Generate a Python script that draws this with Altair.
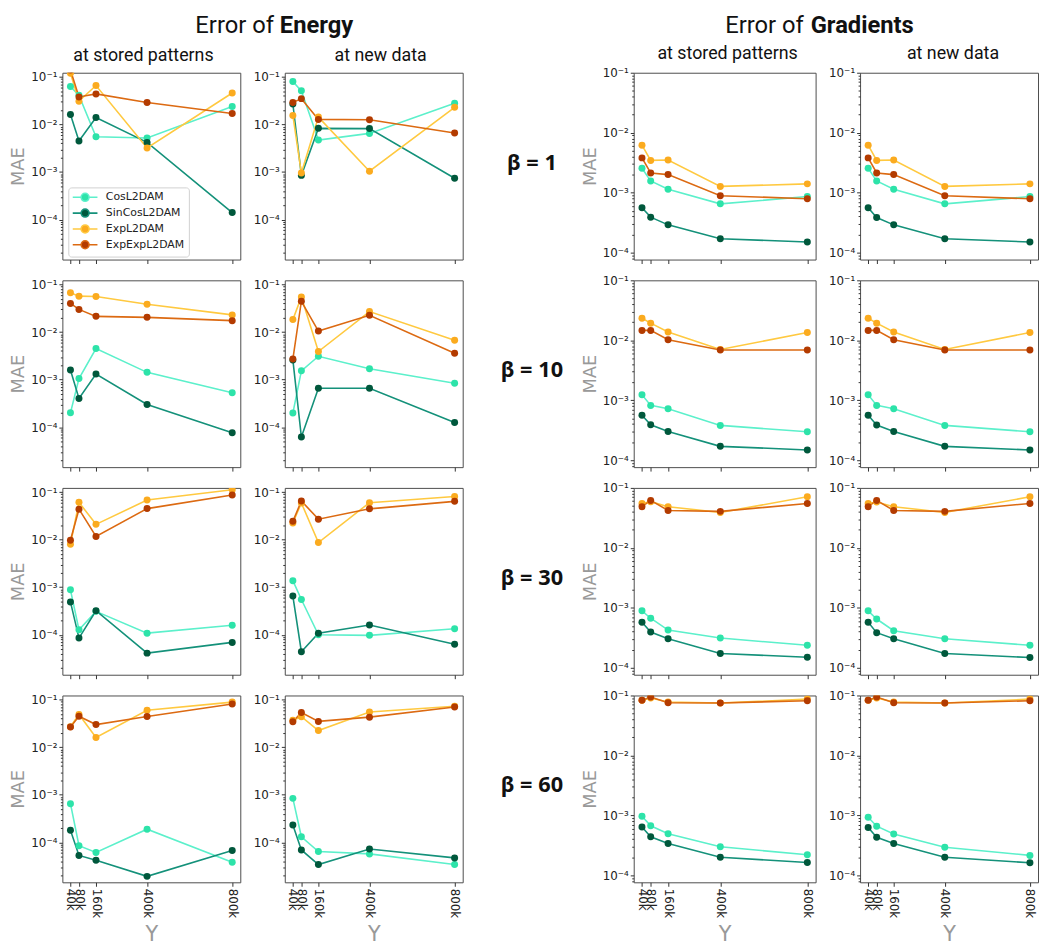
import altair as alt
import pandas as pd

# ---------------- data ----------------
Y_VALUES = [40000, 80000, 160000, 400000, 800000]
MODELS = ["CosL2DAM", "SinCosL2DAM", "ExpL2DAM", "ExpExpL2DAM"]
POINT_COLORS = ["#2de3a9", "#00583c", "#fbab1f", "#b33b00"]
LINE_COLORS = ["#5cf0cb", "#14917a", "#ffc940", "#dc6a12"]
BETAS = [1, 10, 30, 60]
BETA_LABELS = ["β = 1", "β = 10", "β = 30", "β = 60"]
MAIN_TITLES = [("Error of", "Energy"), ("Error of", "Gradients")]
COL_TITLES = ["at stored patterns", "at new data", "at stored patterns", "at new data"]

# Energy, at stored patterns
E_STORED_B1 = {"CosL2DAM": [0.063, 0.041, 0.0055, 0.0052, 0.024],
               "SinCosL2DAM": [0.0163, 0.0045, 0.014, 0.0042, 0.00014],
               "ExpL2DAM": [0.12, 0.031, 0.066, 0.0032, 0.046],
               "ExpExpL2DAM": [0.14, 0.038, 0.044, 0.029, 0.017]}
E_STORED_B10 = {"CosL2DAM": [2.0e-4, 1.05e-3, 4.5e-3, 1.42e-3, 5.3e-4],
                "SinCosL2DAM": [1.6e-3, 4.0e-4, 1.31e-3, 3.0e-4, 7.6e-5],
                "ExpL2DAM": [0.067, 0.057, 0.056, 0.0385, 0.023],
                "ExpExpL2DAM": [0.040, 0.030, 0.0214, 0.0204, 0.0174]}
E_STORED_B30 = {"CosL2DAM": [8.8e-4, 1.27e-4, 3.1e-4, 1.08e-4, 1.58e-4],
                "SinCosL2DAM": [4.9e-4, 8.5e-5, 3.2e-4, 4.1e-5, 6.9e-5],
                "ExpL2DAM": [8.0e-3, 0.061, 0.021, 0.068, 0.112],
                "ExpExpL2DAM": [9.7e-3, 0.0438, 0.0117, 0.045, 0.087]}
E_STORED_B60 = {"CosL2DAM": [6.5e-4, 8.5e-5, 6.1e-5, 1.89e-4, 3.8e-5],
                "SinCosL2DAM": [1.8e-4, 5.3e-5, 4.2e-5, 1.92e-5, 6.7e-5],
                "ExpL2DAM": [0.027, 0.049, 0.016, 0.060, 0.089],
                "ExpExpL2DAM": [0.0268, 0.045, 0.030, 0.0445, 0.081]}

# Energy, at new data
E_NEW_B1 = {"CosL2DAM": [0.080, 0.051, 0.0047, 0.0065, 0.028],
            "SinCosL2DAM": [0.027, 0.00085, 0.0083, 0.0082, 0.00074],
            "ExpL2DAM": [0.0155, 0.00095, 0.0143, 0.00104, 0.023],
            "ExpExpL2DAM": [0.029, 0.035, 0.0128, 0.0126, 0.0066]}
E_NEW_B10 = {"CosL2DAM": [1.98e-4, 1.53e-3, 3.1e-3, 1.69e-3, 8.4e-4],
             "SinCosL2DAM": [2.6e-3, 6.2e-5, 6.6e-4, 6.6e-4, 1.25e-4],
             "ExpL2DAM": [0.0183, 0.0547, 3.9e-3, 0.027, 6.7e-3],
             "ExpExpL2DAM": [2.7e-3, 0.0445, 0.0105, 0.0225, 3.6e-3]}
E_NEW_B30 = {"CosL2DAM": [1.37e-3, 5.5e-4, 1.0e-4, 9.7e-5, 1.33e-4],
             "SinCosL2DAM": [6.5e-4, 4.4e-5, 1.07e-4, 1.6e-4, 6.3e-5],
             "ExpL2DAM": [0.0225, 0.059, 8.7e-3, 0.060, 0.081],
             "ExpExpL2DAM": [0.0243, 0.065, 0.027, 0.0445, 0.064]}
E_NEW_B60 = {"CosL2DAM": [8.4e-4, 1.31e-4, 6.4e-5, 5.7e-5, 3.4e-5],
             "SinCosL2DAM": [2.3e-4, 6.9e-5, 3.4e-5, 7.2e-5, 4.7e-5],
             "ExpL2DAM": [0.037, 0.044, 0.0225, 0.055, 0.073],
             "ExpExpL2DAM": [0.0345, 0.054, 0.035, 0.043, 0.0705]}

# Gradients, at stored patterns
G_STORED_B1 = {"CosL2DAM": [2.55e-3, 1.57e-3, 1.14e-3, 6.5e-4, 8.6e-4],
               "SinCosL2DAM": [5.6e-4, 3.9e-4, 2.9e-4, 1.70e-4, 1.50e-4],
               "ExpL2DAM": [6.2e-3, 3.45e-3, 3.5e-3, 1.27e-3, 1.40e-3],
               "ExpExpL2DAM": [3.8e-3, 2.13e-3, 2.0e-3, 8.9e-4, 7.9e-4]}
G_STORED_B10 = {"CosL2DAM": [1.23e-3, 8.2e-4, 7.2e-4, 3.8e-4, 2.98e-4],
                "SinCosL2DAM": [5.6e-4, 3.9e-4, 3.0e-4, 1.7e-4, 1.48e-4],
                "ExpL2DAM": [0.0233, 0.0193, 0.0137, 7.0e-3, 0.0135],
                "ExpExpL2DAM": [0.0146, 0.0146, 0.0102, 6.9e-3, 6.9e-3]}
G_STORED_B30 = {"CosL2DAM": [8.9e-4, 6.7e-4, 4.25e-4, 3.13e-4, 2.37e-4],
                "SinCosL2DAM": [5.75e-4, 3.94e-4, 3.05e-4, 1.73e-4, 1.50e-4],
                "ExpL2DAM": [0.055, 0.059, 0.0486, 0.039, 0.071],
                "ExpExpL2DAM": [0.0486, 0.0618, 0.042, 0.0406, 0.055]}
G_STORED_B60 = {"CosL2DAM": [9.7e-4, 6.7e-4, 4.94e-4, 3.0e-4, 2.2e-4],
                "SinCosL2DAM": [6.4e-4, 4.4e-4, 3.4e-4, 2.0e-4, 1.64e-4],
                "ExpL2DAM": [0.083, 0.091, 0.078, 0.0747, 0.087],
                "ExpExpL2DAM": [0.083, 0.094, 0.0757, 0.075, 0.0817]}

# Gradients, at new data
G_NEW_B1 = {"CosL2DAM": [2.55e-3, 1.57e-3, 1.14e-3, 6.5e-4, 8.6e-4],
            "SinCosL2DAM": [5.6e-4, 3.85e-4, 2.9e-4, 1.70e-4, 1.50e-4],
            "ExpL2DAM": [6.2e-3, 3.45e-3, 3.5e-3, 1.27e-3, 1.40e-3],
            "ExpExpL2DAM": [3.8e-3, 2.13e-3, 2.0e-3, 8.9e-4, 7.9e-4]}
G_NEW_B10 = {"CosL2DAM": [1.23e-3, 8.2e-4, 7.2e-4, 3.8e-4, 2.98e-4],
             "SinCosL2DAM": [5.6e-4, 3.85e-4, 3.0e-4, 1.7e-4, 1.48e-4],
             "ExpL2DAM": [0.0233, 0.0193, 0.0137, 7.0e-3, 0.0135],
             "ExpExpL2DAM": [0.0146, 0.0146, 0.0102, 6.9e-3, 6.9e-3]}
G_NEW_B30 = {"CosL2DAM": [8.9e-4, 6.5e-4, 4.15e-4, 3.05e-4, 2.37e-4],
             "SinCosL2DAM": [5.75e-4, 3.85e-4, 3.05e-4, 1.73e-4, 1.48e-4],
             "ExpL2DAM": [0.055, 0.058, 0.0486, 0.039, 0.071],
             "ExpExpL2DAM": [0.0486, 0.0618, 0.042, 0.0406, 0.055]}
G_NEW_B60 = {"CosL2DAM": [9.3e-4, 6.6e-4, 4.9e-4, 2.95e-4, 2.15e-4],
             "SinCosL2DAM": [6.3e-4, 4.3e-4, 3.4e-4, 2.0e-4, 1.62e-4],
             "ExpL2DAM": [0.083, 0.091, 0.078, 0.0747, 0.087],
             "ExpExpL2DAM": [0.083, 0.094, 0.0757, 0.075, 0.0817]}

ENERGY_STORED = [E_STORED_B1, E_STORED_B10, E_STORED_B30, E_STORED_B60]
ENERGY_NEW = [E_NEW_B1, E_NEW_B10, E_NEW_B30, E_NEW_B60]
GRAD_STORED = [G_STORED_B1, G_STORED_B10, G_STORED_B30, G_STORED_B60]
GRAD_NEW = [G_NEW_B1, G_NEW_B10, G_NEW_B30, G_NEW_B60]

E_DOMAIN = [1.44e-5, 0.1227]
G_DOMAIN = [7.65e-5, 0.1]

# ---------------- styling helpers ----------------
def log_ticks(lo, hi):
    vals = []
    for e in range(-6, 0):
        for m in range(1, 10):
            v = float(f"{m}e{e}")
            if lo <= v <= hi:
                vals.append(v)
    return vals

E_TICKS = log_ticks(*E_DOMAIN)
G_TICKS = log_ticks(*G_DOMAIN)

MAJOR_TEST = "datum.value == 0.1 || datum.value == 0.01 || datum.value == 0.001 || datum.value == 0.0001"
LABEL_EXPR = ("datum.value == 0.1 ? '10⁻¹' : datum.value == 0.01 ? '10⁻²' : "
              "datum.value == 0.001 ? '10⁻³' : datum.value == 0.0001 ? '10⁻⁴' : ''")

SYMBOL_PATH = ("M-2.5,0L-0.8,0M0.8,0L2.5,0"
               "M-0.8,0A0.8,0.8,0,1,0,0.8,0A0.8,0.8,0,1,0,-0.8,0Z")

LEGEND = alt.Legend(orient="none", legendX=6, legendY=116, title=None,
                    symbolType=SYMBOL_PATH, symbolSize=100, symbolStrokeWidth=1.6,
                    symbolOffset=7, labelOffset=15, padding=4, rowPadding=0,
                    labelFont="DejaVu Sans", labelFontSize=11, labelColor="#222",
                    strokeColor="#d0d0d0", fillColor="white", cornerRadius=3)

TITLE_FONT = "Roboto"
TITLE_Y = -40
TITLE_SIZE = 24


def make_df(d):
    rows = []
    for m in MODELS:
        for yv, v in zip(Y_VALUES, d[m]):
            rows.append({"Y": yv, "MAE": v, "model": m})
    return pd.DataFrame(rows)


def text_layer(txt, x, y, size, weight="normal", align="center", font=TITLE_FONT, color="#111"):
    return alt.Chart(pd.DataFrame({"t": [txt]})).mark_text(
        font=font, fontSize=size, fontWeight=weight, align=align,
        baseline="alphabetic", color=color
    ).encode(text="t:N", x=alt.value(x), y=alt.value(y))


def panel(d, kind, col, row, width):
    bottom = row == 3
    domain = E_DOMAIN if kind == "energy" else G_DOMAIN
    ticks = E_TICKS if kind == "energy" else G_TICKS
    xaxis_kw = dict(values=Y_VALUES, labels=bottom, labelAngle=90,
                    labelExpr="(datum.value/1000) + 'k'", labelOverlap=False,
                    labelFlush=False, tickSize=4, labelPadding=2)
    if bottom:
        xaxis_kw.update(title="Y", titleColor="#999", titleFontSize=21,
                        titleFont="DejaVu Sans", titleFontWeight="normal", titlePadding=6)
    else:
        xaxis_kw.update(title=None)
    yaxis_kw = dict(values=ticks, labelExpr=LABEL_EXPR, labelOverlap=False,
                    tickSize={"condition": {"test": MAJOR_TEST, "value": 3.5}, "value": 2},
                    labelPadding=2)
    if col in (0, 2):
        yaxis_kw.update(title="MAE", titleColor="#999", titleFontSize=18,
                        titleFont="DejaVu Sans", titleFontWeight="normal", titlePadding=3)
    else:
        yaxis_kw.update(title=None)

    base = alt.Chart(make_df(d)).encode(
        x=alt.X("Y:Q", scale=alt.Scale(domain=[2000, 838000], nice=False, zero=False),
                axis=alt.Axis(**xaxis_kw)),
        y=alt.Y("MAE:Q", scale=alt.Scale(type="log", domain=domain, nice=False),
                axis=alt.Axis(**yaxis_kw)),
    )
    lines = base.mark_line(strokeWidth=1.6, clip=True).encode(
        stroke=alt.Stroke("model:N", scale=alt.Scale(domain=MODELS, range=LINE_COLORS),
                          legend=LEGEND))
    points = base.mark_circle(size=50, opacity=1, clip=True).encode(
        fill=alt.Fill("model:N", scale=alt.Scale(domain=MODELS, range=POINT_COLORS),
                      legend=LEGEND))
    layers = [lines, points]
    if row == 0:
        if col == 0:
            layers += [text_layer(MAIN_TITLES[0][0], 214, TITLE_Y, TITLE_SIZE, align="right"),
                       text_layer(MAIN_TITLES[0][1], 220, TITLE_Y, TITLE_SIZE, weight="bold", align="left"),
                       text_layer(COL_TITLES[0], 82, -12, 18)]
        elif col == 1:
            layers += [text_layer(COL_TITLES[1], 97, -12, 18)]
        elif col == 2:
            layers += [text_layer(MAIN_TITLES[1][0], 172, TITLE_Y, TITLE_SIZE, align="right"),
                       text_layer(MAIN_TITLES[1][1], 179, TITLE_Y, TITLE_SIZE, weight="bold", align="left"),
                       text_layer(COL_TITLES[2], 95, -14, 18)]
        else:
            layers += [text_layer(COL_TITLES[3], 94, -14, 18)]
    return alt.layer(*layers).properties(width=width, height=189)


def beta_cell(label):
    return alt.Chart(pd.DataFrame({"label": [label]})).mark_text(
        font="Noto Sans", fontSize=22, fontWeight="bold", align="center",
        baseline="middle", color="#111"
    ).encode(text="label:N", x=alt.value(25), y=alt.value(91)).properties(
        width=83, height=189, view=alt.ViewBackground(stroke="transparent"))


cells = []
for r in range(4):
    cells.append(panel(ENERGY_STORED[r], "energy", 0, r, 180))
    cells.append(panel(ENERGY_NEW[r], "energy", 1, r, 180))
    cells.append(beta_cell(BETA_LABELS[r]))
    cells.append(panel(GRAD_STORED[r], "grad", 2, r, 184))
    cells.append(panel(GRAD_NEW[r], "grad", 3, r, 180))

chart = alt.concat(*cells, columns=5, spacing={"row": 21, "column": 45},
                   bounds="flush").properties(
    padding={"left": 1, "top": 0, "right": 0, "bottom": 0}
).configure_view(stroke="#4d4d4d", strokeWidth=1).configure_axis(
    grid=False, domain=False, tickColor="#333", labelColor="#222",
    labelFont="DejaVu Sans", labelFontSize=12
)

chart.save("out.html", embed_options={"renderer": "svg", "actions": False})
